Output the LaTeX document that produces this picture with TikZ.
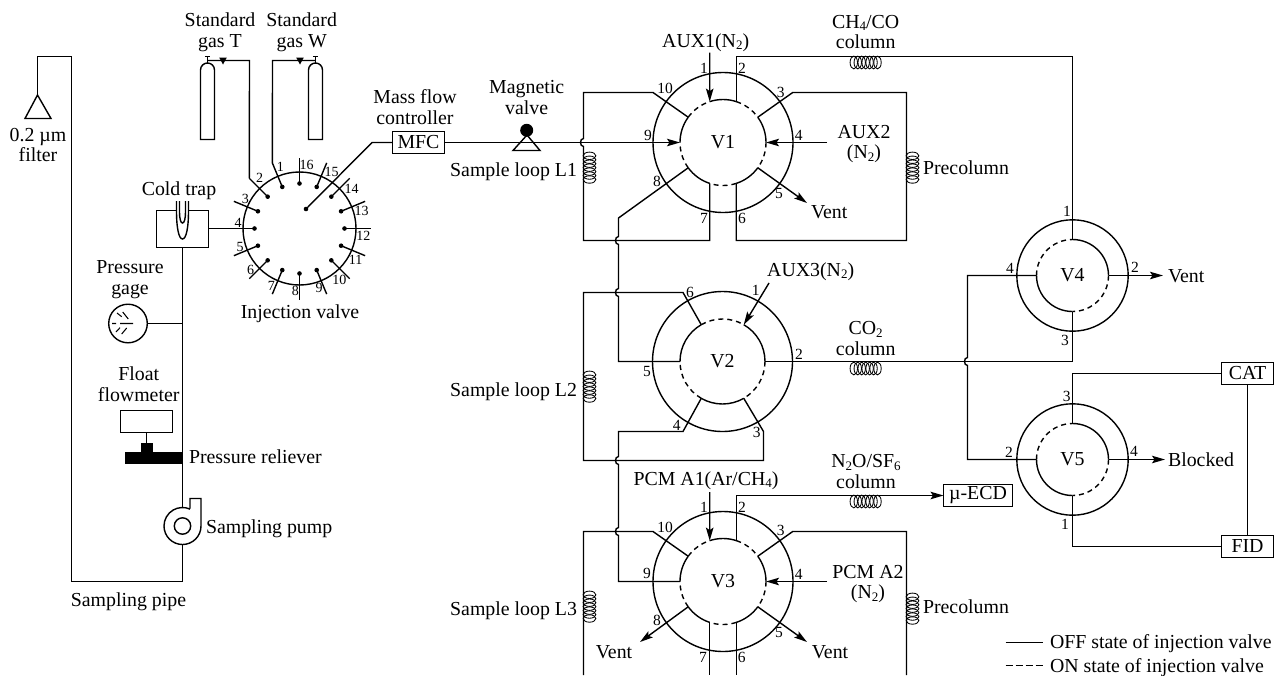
\documentclass[tikz,border=0pt]{standalone}
\usepackage{fontspec}
\setmainfont{Liberation Serif}
\usetikzlibrary{arrows.meta}
\newcommand\subs[1]{\raisebox{-0.28ex}{\fontsize{13}{13}\selectfont #1}}
\tikzset{
  pipe/.style={line width=1.4pt,line join=miter},
  thin pipe/.style={line width=1.05pt},
  arr/.style={pipe,-{Stealth[length=13pt,width=7.5pt,inset=2.5pt]}},
  dash ring/.style={line width=1.4pt,dash pattern=on 5pt off 4pt},
  lab/.style={inner sep=0pt,outer sep=0pt,align=center,yshift=-1.5pt,font=\fontsize{19.85}{20.6}\selectfont},
  labl/.style={lab,anchor=west},
  labr/.style={lab,anchor=east},
  num/.style={inner sep=0pt,outer sep=0pt,font=\fontsize{15.5}{15.5}\selectfont},
  numi/.style={inner sep=0pt,outer sep=0pt,font=\fontsize{14}{14}\selectfont},
  vbody/.style={circle,draw,line width=1.4pt,inner sep=0pt,outer sep=0pt,font=\fontsize{19.85}{20.6}\selectfont},
  box/.style={rectangle,draw,line width=1.4pt,inner sep=0pt,outer sep=0pt,minimum height=22pt,font=\fontsize{19.85}{20.6}\selectfont},
  coil/.style={line width=0.85pt}
}
\newcommand\coilv[2]{\foreach \k in {0,...,6}{\draw[coil] (#1+6.5,#2+3.8+\k*3.95) ellipse [x radius=6.4,y radius=3.7];}}
\newcommand\coilh[2]{\foreach \k in {0,...,6}{\draw[coil] (#1+3.8+\k*3.95,#2+6.5) ellipse [x radius=3.7,y radius=6.4];}}
\newcommand\tenport[3]{%
  \node[vbody,minimum size=140pt] (#1) at (#2,#3) {#1};
  \foreach \n/\a in {1/-108,2/-72,3/-36,4/0,5/36,6/72,7/108,8/144,9/180,10/216}{\path (#1) ++(\a:43) coordinate (#1p\n);}
  \foreach \a/\b in {-108/-72,-36/0,36/72,108/144,180/216}{\path (#1) ++(\a:43) coordinate (tmp); \draw[pipe] (tmp) arc[start angle=\a,end angle=\b,radius=43];}
  \foreach \a/\b in {-72/-36,0/36,72/108,144/180,216/252}{\path (#1) ++(\a:43) coordinate (tmp); \draw[dash ring] (tmp) arc[start angle=\a,end angle=\b,radius=43];}
}
\newcommand\fourport[3]{%
  \node[vbody,minimum size=111.4pt] (#1) at (#2,#3) {#1};
  \foreach \n/\a in {t/-90,r/0,b/90,l/180}{\path (#1) ++(\a:36) coordinate (#1\n);}
  \foreach \a/\b in {-90/0,90/180}{\path (#1) ++(\a:36) coordinate (tmp); \draw[pipe] (tmp) arc[start angle=\a,end angle=\b,radius=36];}
  \foreach \a/\b in {0/90,180/270}{\path (#1) ++(\a:36) coordinate (tmp); \draw[dash ring] (tmp) arc[start angle=\a,end angle=\b,radius=36];}
}
\begin{document}
\begin{tikzpicture}[x=1pt,y=-1pt]
\useasboundingbox (0,0) rectangle (1274,675);
\fourport{V4}{1072.5}{275.5}
\fourport{V5}{1072.5}{459.5}
% ---------- sampling line
\coordinate (filt) at (37.5,95);
\draw[pipe] (filt) -- (37.5,56.5) -- (71.5,56.5) -- (71.5,581.5) -- (182.5,581.5) -- (182.5,544.5) coordinate (pumpbot);
\draw[pipe] (filt) -- (25,118.5) -- (51,118.5) -- cycle;
\node[lab] (filtlab) at (38,143.5) {0.2 µm\\filter};
% cold trap
\node[rectangle,draw,line width=1.4pt,inner sep=0,outer sep=0,minimum width=52pt,minimum height=37pt] (trap) at (182.5,229) {};
\draw[pipe,fill=white] (176.5,201) -- (176.5,212) .. controls (176.5,226) and (178.5,239) .. (182.5,239) .. controls (186.5,239) and (188.5,226) .. (188.5,212) -- (188.5,201);
\draw[pipe] (179.5,201) -- (179.5,212) .. controls (179.5,218) and (180.5,223) .. (182.5,223) .. controls (184.5,223) and (185.5,218) .. (185.5,212) -- (185.5,201);
\node[lab] (traplab) at (179,189) {Cold trap};
\coordinate (pumptop) at (182.5,507);
\draw[pipe] (trap.south) -- (pumptop);
% gage
\node[circle,draw,line width=1.4pt,inner sep=0,outer sep=0,minimum size=38.6pt] (gage) at (128,323.5) {};
\draw[pipe] (gage.east) -- (182.5,323.5);
\draw[thin pipe] (112,323.5) -- (116,323.5) (120,323.5) -- (133,323.5)
  (117,313) -- (121.7,316.7) (122.7,312) -- (128.3,319)
  (116,332) -- (120,327.7) (121.7,334) -- (126.7,328);
\node[lab] (gagelab) at (130,278) {Pressure\\gage};
% flowmeter + reliever
\node[rectangle,draw,line width=1.4pt,inner sep=0,outer sep=0,minimum width=52pt,minimum height=22pt] (fm) at (146.5,421.5) {};
\fill (125,451.7) rectangle (183,464);
\fill (141,443.3) rectangle (152.7,452);
\draw[pipe] (fm.south) -- (146.5,444);
\node[lab] (fmlab) at (138.7,383) {Float\\flowmeter};
\node[labl] (rellab) at (189,455.5) {Pressure reliever};
% pump
\draw[pipe,fill=white] (190,508.7) -- (190,498.5) -- (201,498.5) -- (201,526)
   arc[start angle=0,end angle=294,radius=18.5] ;
\node[circle,draw,line width=1.4pt,inner sep=0,outer sep=0,minimum size=16.4pt] (pump) at (182.5,526) {};
\node[labl] (pumplab) at (206,527) {Sampling pump};
\node[lab] (pipelab) at (128.5,600) {Sampling pipe};
% ---------- cylinders
\foreach \nm/\c/\tx in {T/207.5/223,W/315.5/300}{
  \draw[pipe] (\c-7,139.5) -- (\c-7,70) arc[start angle=180,end angle=360,x radius=7,y radius=7] -- (\c+7,139.5) -- cycle;
  \draw[pipe] (\c,63) -- (\c,56.5) (\c-2.7,56.5) -- (\c+2.7,56.5);
  \fill (\tx-3.8,57.5) -- (\tx+3.8,57.5) -- (\tx,64.5) -- cycle;
}
\node[lab] (gasT) at (220,31) {Standard\\gas T};
\node[lab] (gasW) at (301.7,31) {Standard\\gas W};
% ---------- injection valve
\node[circle,draw,line width=1.4pt,inner sep=0,outer sep=0,minimum size=113pt] (IV) at (299.5,228.5) {};
\foreach \k in {1,...,16}{
  \pgfmathsetmacro\ang{-(90+22.5*\k)}
  \path (IV.center) ++(\ang:45) coordinate (IVd\k);
  \path (IV.center) ++(\ang:71) coordinate (IVe\k);
  \fill (IVd\k) circle (2.3);
  \draw[pipe] (IVd\k) -- (IVe\k);
}
\coordinate (IVc) at (306,209);
\fill (IVc) circle (2.3);
\draw[pipe] (IVe1) -- (272.5,60.5) -- (315.5,60.5);
\draw[pipe] (IVe2) -- (249.5,60.5) -- (207.5,60.5);
\draw[pipe] (IVd4 -| trap.east) -- (IVd4);
\foreach \n/\x/\y in {1/280.3/167.3,2/259.7/178.3,3/245.3/199.3,4/238/222.7,5/240/246.7,6/250.7/270,7/271.3/286,8/295.3/291,9/319/288.3,10/339.3/280,11/355.7/260,12/363.3/235.7,13/361.7/211,14/351.7/189,15/331.7/172.3,16/306.7/165}{
  \node[numi,name=IVn\n] at (\x,\y) {\n};}
\node[lab] (ivlab) at (300,312) {Injection valve};
% ---------- MFC and magnetic valve
\node[box,minimum width=52pt] (MFC) at (418.5,142.5) {MFC};
\draw[pipe] (IVc) -- (372,142.5) -- (MFC.west);
\node[lab] (mfclab) at (415,105.5) {Mass flow\\controller};
\node[lab] (maglab) at (526.7,96) {Magnetic\\valve};
\node[labr] (L1) at (577,170) {Sample loop L1};
% ---------- V1
\tenport{V1}{723}{142.5}
\draw[arr] (MFC.east) -- (V1p9);
\fill (526.7,130.3) circle (6.5);
\draw[pipe] (527,135) -- (513,150.5) -- (540,150.5) -- cycle;
\draw[pipe] (V1p10) -- (653,92.5) -- (583.5,92.5) -- (583.5,138.5) .. controls (579.5,138.5) and (579.5,146.5) .. (583.5,146.5) -- (583.5,240.5) -- (V1p7 |- 583.5,240.5) -- (V1p7);
\coilv{583}{152}
\draw[pipe] (V1p3) -- (792.7,92.5) -- (906.5,92.5) -- (906.5,240.5) -- (V1p6 |- 906.5,240.5) -- (V1p6);
\coilv{906}{152}
\draw[pipe] (V1p2) -- (V1p2 |- 0,56.5) -- (1072.5,56.5) -- (V4t);
\coilh{850}{56}
\coordinate (a1) at (709.7,52.5);
\draw[arr] (a1) -- (V1p1);
\coordinate (a4) at (827,142.5);
\draw[arr] (a4) -- (V1p4);
\coordinate (v1vent) at (807,203);
\draw[arr] (V1p5) -- (v1vent);
\foreach \n/\x/\y in {1/704/68,2/742/68,3/780.7/92,4/798.7/135,5/779/193,6/742/218,7/704/218,8/657/181,9/648/135,10/665/88}{
  \node[num,name=V1n\n] at (\x,\y) {\n};}
\node[lab] (aux1) at (705.7,41) {AUX1(N\subs{2})};
\node[lab] (ch4) at (865.7,30.5) {CH\subs{4}/CO\\column};
\node[lab] (aux2) at (864,142.5) {AUX2\\(N\subs{2})};
\node[labl] (pre1) at (923,166.5) {Precolumn};
\node[labl] (vent1) at (811,211) {Vent};
% ---------- V2
\node[vbody,minimum size=140pt] (V2) at (722.5,361.5) {V2};
\foreach \n/\a in {1/-60,2/0,3/60,4/120,5/180,6/240}{\path (V2) ++(\a:42.5) coordinate (V2p\n);}
\foreach \a/\b in {-60/0,60/120,180/240}{\path (V2) ++(\a:42.5) coordinate (tmp); \draw[pipe] (tmp) arc[start angle=\a,end angle=\b,radius=42.5];}
\foreach \a/\b in {-120/-60,0/60,120/180}{\path (V2) ++(\a:42.5) coordinate (tmp); \draw[dash ring] (tmp) arc[start angle=\a,end angle=\b,radius=42.5];}
\draw[pipe] (V1p8) -- (618.5,218) -- (618.5,236.5) .. controls (614.5,236.5) and (614.5,244.5) .. (618.5,244.5) -- (618.5,288.5) .. controls (614.5,288.5) and (614.5,296.5) .. (618.5,296.5) -- (618.5,361.5) -- (V2p5);
\draw[pipe] (V2p6) -- (683,292.5) -- (583.5,292.5) -- (583.5,460.5) -- (763.5,460.5) -- (763.5,431.5) -- (V2p3);
\coilv{583}{371}
\coordinate (a3) at (769,283);
\draw[arr] (a3) -- (V2p1);
\draw[pipe] (V2p2) -- (1072.5,361.5) -- (V4b);
\coilh{850}{362}
\foreach \n/\x/\y in {1/755.7/290,2/799/354,3/756.7/432,4/676.7/425.7,5/647/371,6/690/292}{
  \node[num,name=V2n\n] at (\x,\y) {\n};}
\node[lab] (aux3) at (810.7,270) {AUX3(N\subs{2})};
\node[labr] (L2) at (577,390) {Sample loop L2};
\node[lab] (co2) at (865.7,337) {CO\subs{2}\\column};
% ---------- V3
\tenport{V3}{723}{581.5}
\draw[pipe] (V2p4) -- (683,431.5) -- (618.5,431.5) -- (618.5,456.5) .. controls (614.5,456.5) and (614.5,464.5) .. (618.5,464.5) -- (618.5,527.5) .. controls (614.5,527.5) and (614.5,535.5) .. (618.5,535.5) -- (618.5,581.5) -- (V3p9);
\coordinate (b10) at (583.5,675);
\draw[pipe] (V3p10) -- (653,531.5) -- (583.5,531.5) -- (b10);
\coilv{583}{591}
\coordinate (b3) at (906.5,675);
\draw[pipe] (V3p3) -- (792.7,531.5) -- (906.5,531.5) -- (b3);
\coilv{906}{593}
\draw[pipe] (V3p7) -- (V3p7 |- 0,675);
\draw[pipe] (V3p6) -- (V3p6 |- 0,675);
\node[box,minimum width=69pt] (ECD) at (978,495.5) {µ-ECD};
\draw[arr] (V3p2) -- (V3p2 |- 0,495.5) -- (ECD.west);
\coilh{850}{495}
\coordinate (a5) at (709.7,492);
\draw[arr] (a5) -- (V3p1);
\coordinate (a6) at (827,581.5);
\draw[arr] (a6) -- (V3p4);
\coordinate (v3v1) at (807,642);
\coordinate (v3v2) at (640,642);
\draw[arr] (V3p5) -- (v3v1);
\draw[arr] (V3p8) -- (v3v2);
\foreach \n/\x/\y in {1/704/507,2/742/507,3/780.7/530.7,4/798.7/574,5/779/632,6/741.7/657,7/703/657,8/657/620,9/647/573,10/665/527}{
  \node[num,name=V3n\n] at (\x,\y) {\n};}
\node[lab] (pcm1) at (706,479) {PCM A1(Ar/CH\subs{4})};
\node[lab] (n2o) at (866,470) {N\subs{2}O/SF\subs{6}\\column};
\node[lab] (pcm2) at (868,582.5) {PCM A2\\(N\subs{2})};
\node[labl] (pre3) at (923,605.5) {Precolumn};
\node[labr] (L3) at (577,609) {Sample loop L3};
\node[lab] (vent3a) at (614,651) {Vent};
\node[lab] (vent3b) at (830,651) {Vent};
% ---------- V4 V5 connectors
\draw[pipe] (V4l) -- (967.5,275.5) -- (967.5,357.5) .. controls (963.5,357.5) and (963.5,365.5) .. (967.5,365.5) -- (967.5,459.5) -- (V5l);
\coordinate (v4v) at (1163,275.5);
\coordinate (v5b) at (1165,459.5);
\draw[arr] (V4r) -- (v4v);
\draw[arr] (V5r) -- (v5b);
\node[box,minimum width=52pt] (CAT) at (1247.5,373.5) {CAT};
\node[box,minimum width=52pt] (FID) at (1247.5,546.5) {FID};
\draw[pipe] (V5t) -- (1072.5,373.5) -- (CAT.west);
\draw[pipe] (V5b) -- (1072.5,546.5) -- (FID.west);
\draw[pipe] (CAT.south) -- (FID.north);
\foreach \n/\x/\y in {1/1067/211.7,2/1135/267,3/1065/340,4/1010/268}{
  \node[num,name=V4n\n] at (\x,\y) {\n};}
\foreach \n/\x/\y in {3/1066.7/396.7,4/1134/451.7,2/1009/452.7,1/1065/524}{
  \node[num,name=V5n\n] at (\x,\y) {\n};}
\node[labl] (vent4) at (1168,275) {Vent};
\node[labl] (blocked) at (1168,458) {Blocked};
% ---------- legend
\coordinate (l1a) at (1005.7,642.5);
\coordinate (l1b) at (1042.7,642.5);
\coordinate (l2a) at (1005.7,665.5);
\coordinate (l2b) at (1042.7,665.5);
\draw[pipe] (l1a) -- (l1b);
\draw[pipe,dash pattern=on 7pt off 3pt] (l2a) -- (l2b);
\node[labl] (off) at (1050,642) {OFF state of injection valve};
\node[labl] (on) at (1050,666) {ON state of injection valve};
\end{tikzpicture}
\end{document}
